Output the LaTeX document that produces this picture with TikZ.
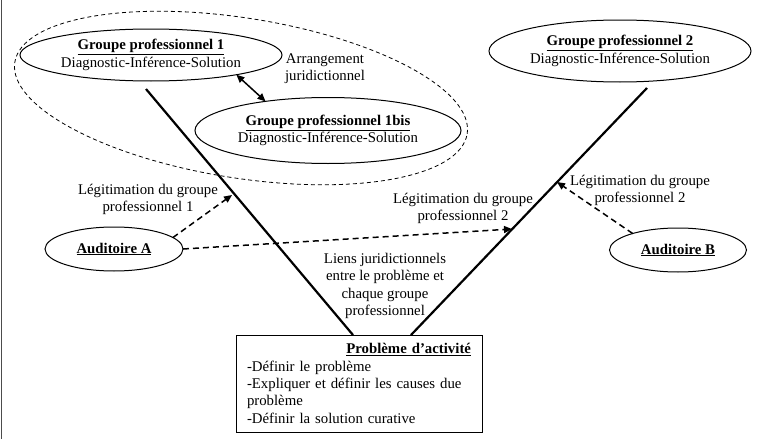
\documentclass[tikz,border=0pt]{standalone}
\usepackage{fontspec}
\setmainfont{Liberation Serif}
\usetikzlibrary{shapes.geometric,arrows.meta,calc}
\begin{document}
\begin{tikzpicture}[x=1pt,y=-1pt,
  every node/.style={font=\fontsize{14.8}{17.3}\selectfont, inner sep=0pt, outer sep=0pt},
  ell/.style={draw, ellipse, line width=1pt, align=center},
  conn/.style={line width=2.2pt},
  dasharrow/.style={line width=1.5pt, dash pattern=on 6pt off 4pt, -{Triangle[length=8pt,width=7pt]}},
  zonestyle/.style={draw, ellipse, line width=0.8pt, dash pattern=on 4pt off 3pt},
  lbl/.style={align=center}
]
\useasboundingbox (0,0) rectangle (764,439);
\draw[gray!60!black, line width=1.5pt] (1.5,0) -- (1.5,439);

\node[zonestyle, rotate=-9, minimum width=458pt, minimum height=160pt] (zone) at (241,98) {};

\node[ell, minimum width=262pt, minimum height=52pt] (gp1) at (151,55) {\underline{\textbf{Groupe professionnel 1}}\\Diagnostic-Inférence-Solution};
\node[ell, minimum width=266pt, minimum height=66pt] (gp1b) at (328,130.5) {\underline{\textbf{Groupe professionnel 1bis}}\\Diagnostic-Inférence-Solution};
\node[ell, minimum width=262pt, minimum height=62pt] (gp2) at (620,51) {\underline{\textbf{Groupe professionnel 2}}\\Diagnostic-Inférence-Solution};
\node[ell, minimum width=138pt, minimum height=44pt] (audA) at (114,249) {\underline{\textbf{Auditoire A}}};
\node[ell, minimum width=137pt, minimum height=44pt] (audB) at (678,250) {\underline{\textbf{Auditoire B}}};

\node[draw, line width=1pt, minimum width=246pt, minimum height=97pt, text width=224pt, align=left] (prob) at (359,383.5)
  {\hspace*{\fill}\underline{\textbf{Problème d’activité}}\hspace*{\fill}\\-Définir le problème\\-Expliquer et définir les causes due\\problème\\-Définir la solution curative};

\node[lbl] (arr) at (325,69) {Arrangement\\juridictionnel};
\node[lbl] (legA) at (148,199.5) {Légitimation du groupe\\professionnel 1};
\node[lbl] (legM) at (463,208.5) {Légitimation du groupe\\professionnel 2};
\node[lbl] (legB) at (640,190.5) {Légitimation du groupe\\professionnel 2};
\node[lbl] (liens) at (385,286) {Liens juridictionnels\\entre le problème et\\chaque groupe\\professionnel};

\coordinate (l1a) at (146,89);
\coordinate (l2a) at (647,88);
\coordinate (l1b) at ($(prob.north)+(-6,0)$);
\coordinate (l2b) at ($(prob.north)+(52,0)$);
\coordinate (tA) at (232,195);
\coordinate (tAB) at (512,229);
\coordinate (tB) at (557,182);

\draw[conn] (l1a) -- (l1b);
\draw[conn] (l2a) -- (l2b);
\draw[dasharrow] (audA.11) -- (tA);
\draw[dasharrow] (audA.east) -- (tAB);
\draw[dasharrow] (audB.160) -- (tB);
\draw[line width=1.5pt, {Triangle[length=8pt,width=7pt]}-{Triangle[length=8pt,width=7pt]}] (gp1.-13) -- (gp1b.155);
\end{tikzpicture}
\end{document}
